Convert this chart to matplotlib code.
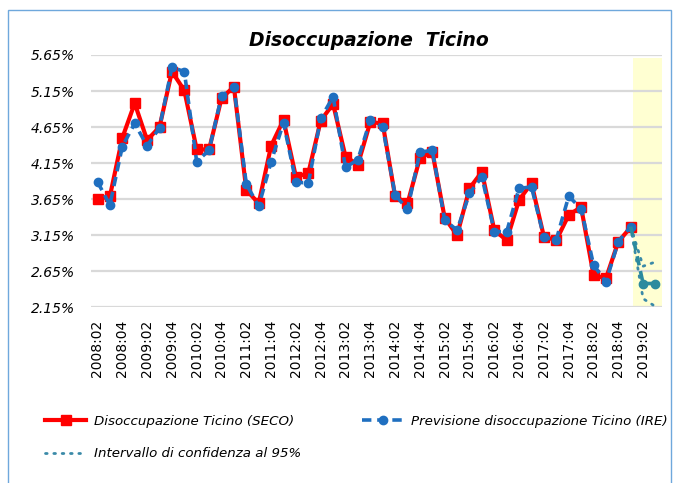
import matplotlib
matplotlib.use("Agg")
import matplotlib.pyplot as plt
from matplotlib.patches import Rectangle

# Trimestri 2008:02 - 2019:03
anni = list(range(2008, 2020))
trimestri = [f"{a}:{q:02d}" for a in anni for q in range(1, 5)][1:47]

# Disoccupazione Ticino (SECO), fino a 2019:01
seco = [3.65, 3.69, 4.50, 4.98, 4.47, 4.65, 5.42, 5.16, 4.34, 4.34,
        5.05, 5.21, 3.78, 3.59, 4.39, 4.75, 3.96, 4.01, 4.74, 4.97,
        4.24, 4.13, 4.72, 4.70, 3.69, 3.59, 4.22, 4.31, 3.39, 3.15,
        3.80, 4.03, 3.22, 3.08, 3.64, 3.87, 3.13, 3.08, 3.43, 3.54,
        2.60, 2.55, 3.06, 3.26]

# Previsione IRE, fino a 2019:03
ire = [3.89, 3.57, 4.38, 4.70, 4.39, 4.64, 5.48, 5.42, 4.17, 4.33,
       5.08, 5.21, 3.86, 3.55, 4.17, 4.71, 3.89, 3.87, 4.77, 5.07,
       4.09, 4.20, 4.75, 4.65, 3.71, 3.51, 4.30, 4.33, 3.36, 3.22,
       3.73, 3.96, 3.20, 3.20, 3.80, 3.82, 3.12, 3.09, 3.69, 3.52,
       2.74, 2.50, 3.06, 3.27, 2.48, 2.48]

# Intervallo di confidenza al 95% (da 2019:01)
ci_sup = [3.27, 2.72, 2.78]
ci_inf = [3.27, 2.27, 2.16]

y_ticks = [2.15, 2.65, 3.15, 3.65, 4.15, 4.65, 5.15, 5.65]

W, H = 673, 483
fig = plt.figure(figsize=(W / 100, H / 100), dpi=100)
ax = fig.add_axes([91.3 / W, 1 - 307.3 / H, 570.4 / W, 252.3 / H])

x_seco = list(range(len(seco)))
x_ire = list(range(len(ire)))
n_oss = len(seco) - 1
x_ci = list(range(n_oss, n_oss + len(ci_sup)))

# zona previsione
ax.axvspan(43.2, 45.5, ymin=0, ymax=0.988, color="#ffffd2", zorder=0, lw=0)

ax.plot(x_seco, seco, color="#ff0000", lw=3, marker="s", ms=6.5,
        zorder=3, label="Disoccupazione Ticino (SECO)")
ax.plot(x_ire[:n_oss + 1], ire[:n_oss + 1], color="#1f6fc0", lw=2.6,
        ls=(0, (2.6, 1.6)), marker="o", ms=6, zorder=4,
        label="Previsione disoccupazione Ticino (IRE)")
ax.plot(x_ire[n_oss:], ire[n_oss:], color="#2b8a9e", lw=2.6,
        ls=(0, (2.6, 1.6)), marker="o", markevery=[1, 2], ms=6, zorder=4)
ax.plot(x_ci, ci_sup, color="#3a8aa8", lw=2, ls=(0, (0.6, 2.4)),
        dash_capstyle="round", zorder=2, label="Intervallo di confidenza al 95%")
ax.plot(x_ci, ci_inf, color="#3a8aa8", lw=2, ls=(0, (0.6, 2.4)),
        dash_capstyle="round", zorder=2)

ax.set_xlim(-0.5, 45.5)
ax.set_ylim(2.15, 5.65)
ax.set_yticks(y_ticks)
ax.set_yticklabels([f"{v:.2f}%" for v in y_ticks], fontstyle="italic", fontsize=10)
ax.set_xticks(x_ire[::2])
ax.set_xticklabels(trimestri[::2], rotation=90, fontsize=10)
ax.tick_params(length=0)
ax.tick_params(axis="x", pad=9)
ax.tick_params(axis="y", pad=12)
ax.grid(axis="y", color="#d9d9d9", lw=1.6)
ax.set_axisbelow(True)
for s in ax.spines.values():
    s.set_visible(False)

fig.text(369 / W, 1 - 40 / H, "Disoccupazione  Ticino", ha="center", va="center",
         fontsize=13.5, fontweight="bold", fontstyle="italic")

h, l = ax.get_legend_handles_labels()
fig.legend([h[0], h[2], h[1]], [l[0], l[2], l[1]], ncol=2, frameon=False,
           loc="upper left", bbox_to_anchor=(45 / W, 1 - 415 / H),
           borderaxespad=0, borderpad=0, handlelength=3.1, handletextpad=0.55,
           labelspacing=1.45, columnspacing=4.6,
           prop={"style": "italic", "size": 9.6})

# cornice
fig.add_artist(Rectangle((8 / W, -0.05), (671 - 8) / W, 1.05 - 10 / H,
                         transform=fig.transFigure, fill=False,
                         edgecolor="#6fa8dc", lw=1))

fig.savefig("out.png", dpi=100)
